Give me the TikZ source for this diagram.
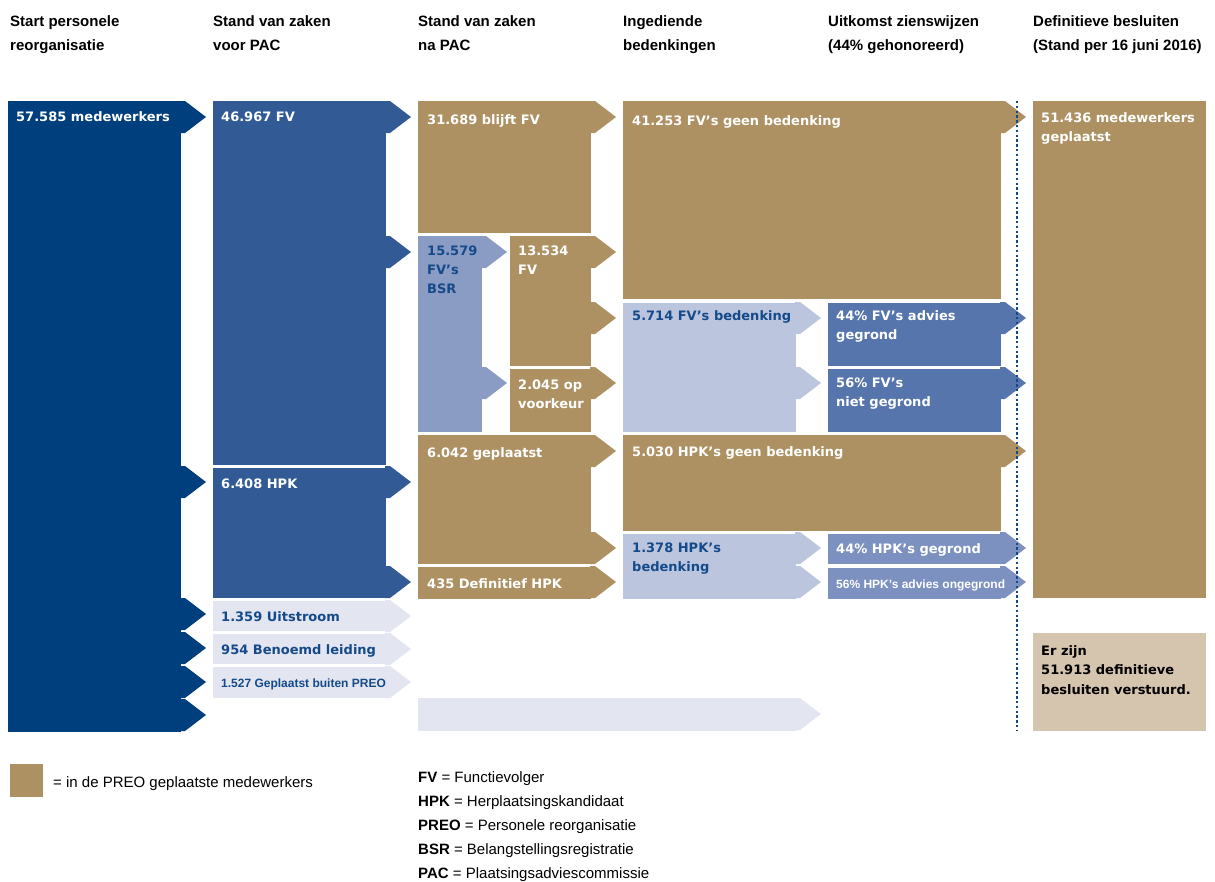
\documentclass[tikz,border=0pt]{standalone}
\usepackage{fontspec}
\setmainfont{Liberation Sans}
\newfontfamily\boxfam{DejaVu Sans}
\usepackage{xcolor}
\usepackage{tikz}

\definecolor{dblue}{HTML}{003F7D}
\definecolor{mblue}{HTML}{325B96}
\definecolor{tan}{HTML}{AE9162}
\definecolor{ltan}{HTML}{D5C4AE}
\definecolor{bsr}{HTML}{8A9CC4}
\definecolor{lav}{HTML}{BCC5DE}
\definecolor{pale}{HTML}{E3E6F1}
\definecolor{fvblue}{HTML}{5675AC}
\definecolor{hpkblue}{HTML}{7C91C0}
\definecolor{tblue}{HTML}{154A8A}

\begin{document}
\begin{tikzpicture}[
            x = 1pt, y = -1pt, % pixel grid, y runs down
            hdr/.style = {anchor=base west, inner sep=0pt, align=left, font=\bfseries\fontsize{15}{24}\selectfont},
            lbl/.style = {anchor=base west, inner sep=0pt, align=left, text=white, font=\boxfam\bfseries\fontsize{13}{19}\selectfont},
            lbldark/.style = {lbl, text=tblue},
            smalltxt/.style = {font=\bfseries\fontsize{12}{14}\selectfont},
            legtxt/.style = {anchor=base west, inner sep=0pt, align=left, font=\fontsize{15}{24}\selectfont},
            pics/tip/.style = {code={\fill[#1] (-1,-16) -- (4,-16) -- (25,0) -- (4,16) -- (-1,16) -- cycle;}} % arrow head on a box
        ]
\useasboundingbox (0,0) rectangle (1215,881);

% column heads (multi-line nodes sit on their last baseline)
\node[hdr] (h1) at (10,50) {Start personele\\reorganisatie};
\node[hdr] (h2) at (213,50) {Stand van zaken\\voor PAC};
\node[hdr] (h3) at (418,50) {Stand van zaken\\na PAC};
\node[hdr] (h4) at (623,50) {Ingediende\\bedenkingen};
\node[hdr] (h5) at (828,50) {Uitkomst zienswijzen\\(44\% gehonoreerd)};
\node[hdr] (h6) at (1033,50) {Definitieve besluiten\\(Stand per 16 juni 2016)};

% start
\fill[dblue] (8,101) rectangle (181,732);
\foreach \c in {117,482,614,648,682,715}
    \pic at (181,\c) {tip=dblue};
\node[lbl] (start) at (16,121) {57.585 medewerkers};

% voor PAC
\fill[mblue] (213,101) rectangle (386,465);
\pic at (386,117) {tip=mblue};
\pic at (386,252) {tip=mblue};
\fill[mblue] (213,468) rectangle (386,598);
\pic at (386,482) {tip=mblue};
\pic at (386,582) {tip=mblue};
\fill[pale] (213,601) rectangle (386,631);
\fill[pale] (213,634) rectangle (386,664);
\fill[pale] (213,667) rectangle (386,698);
\pic at (386,616) {tip=pale};
\pic at (386,649) {tip=pale};
\pic at (386,682) {tip=pale};
\node[lbl] (fv) at (221,121) {46.967 FV};
\node[lbl] (hpk) at (221,488) {6.408 HPK};
\node[lbldark] (uit) at (221,621) {1.359 Uitstroom};
\node[lbldark] (ben) at (221,654) {954 Benoemd leiding};
\node[lbldark, smalltxt] (buiten) at (221,687) {1.527 Geplaatst buiten PREO};

% na PAC
\fill[tan] (418,101) rectangle (591,233);
\pic at (591,117) {tip=tan};
\fill[bsr] (418,236) rectangle (482,432);
\pic at (482,252) {tip=bsr};
\pic at (482,383) {tip=bsr};
\fill[tan] (510,236) rectangle (591,366);
\pic at (591,252) {tip=tan};
\pic at (591,318) {tip=tan};
\fill[tan] (510,369) rectangle (591,432);
\pic at (591,383) {tip=tan};
\fill[tan] (418,435) rectangle (591,564);
\pic at (591,451) {tip=tan};
\pic at (591,548) {tip=tan};
\fill[tan] (418,567) rectangle (591,599);
\pic at (591,582) {tip=tan};
\fill[pale] (418,698) rectangle (796,731);
\pic at (796,714) {tip=pale};
\node[lbl] (blijft) at (427,124) {31.689 blijft FV};
\node[lbldark] (bsrfv) at (427,293) {15.579\\FV’s\\BSR};
\node[lbl] (fvnew) at (518,274) {13.534\\FV};
\node[lbl] (voorkeur) at (518,408) {2.045 op\\voorkeur};
\node[lbl] (geplaatst) at (427,457) {6.042 geplaatst};
\node[lbl] (definitief) at (427,588) {435 Definitief HPK};

% bedenkingen
\fill[tan] (623,101) rectangle (1001,299);
\pic at (1001,117) {tip=tan};
\fill[lav] (623,303) rectangle (796,432);
\pic at (796,318) {tip=lav};
\pic at (796,383) {tip=lav};
\fill[tan] (623,435) rectangle (1001,531);
\pic at (1001,451) {tip=tan};
\fill[lav] (623,534) rectangle (796,599);
\pic at (796,548) {tip=lav};
\pic at (796,582) {tip=lav};
\node[lbl] (fvgeen) at (632,125) {41.253 FV’s geen bedenking};
\node[lbldark] (fvbed) at (632,320) {5.714 FV’s bedenking};
\node[lbl] (hpkgeen) at (632,456) {5.030 HPK’s geen bedenking};
\node[lbldark] (hpkbed) at (632,571) {1.378 HPK’s\\bedenking};

% uitkomst
\fill[fvblue] (828,303) rectangle (1001,366);
\fill[fvblue] (828,369) rectangle (1001,432);
\pic at (1001,318) {tip=fvblue};
\pic at (1001,383) {tip=fvblue};
\fill[hpkblue] (828,534) rectangle (1001,564);
\fill[hpkblue] (828,568) rectangle (1001,599);
\pic at (1001,548) {tip=hpkblue};
\pic at (1001,582) {tip=hpkblue};
\node[lbl] (fvgegrond) at (836,339) {44\% FV’s advies\\gegrond};
\node[lbl] (fvniet) at (836,406) {56\% FV’s\\niet gegrond};
\node[lbl] (hpkgegrond) at (836,553) {44\% HPK’s gegrond};
\node[lbl, smalltxt] (hpkniet) at (836,588) {56\% HPK’s advies ongegrond};

% definitief
\draw[tblue, line width=2.4pt, dash pattern=on 2.4pt off 2.4pt] (1017,101) -- (1017,731);
\fill[tan] (1033,101) rectangle (1206,598);
\fill[ltan] (1033,633) rectangle (1206,731);
\node[lbl] (totaal) at (1041,141) {51.436 medewerkers\\geplaatst};
\node[lbl, text=black, font=\boxfam\bfseries\fontsize{13}{19.5}\selectfont] (besluiten) at (1041,694) {Er zijn\\51.913 definitieve\\besluiten verstuurd.};

% legend
\fill[tan] (10,764) rectangle (43,797);
\node[legtxt] (leg) at (53,787) {= in de PREO geplaatste medewerkers};
\node[legtxt] (abbr) at (418,878) {\textbf{FV} = Functievolger\\\textbf{HPK} = Herplaatsingskandidaat\\\textbf{PREO} = Personele reorganisatie\\\textbf{BSR} = Belangstellingsregistratie\\\textbf{PAC} = Plaatsingsadviescommissie};
\end{tikzpicture}
\end{document}
